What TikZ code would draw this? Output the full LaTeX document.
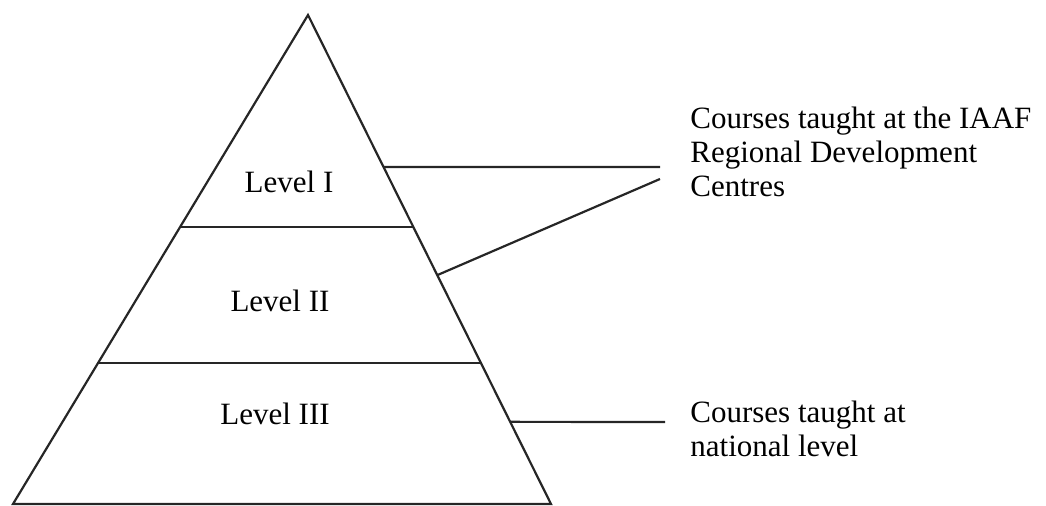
\documentclass[tikz,border=0pt]{standalone}
\usepackage{fontspec}
\setmainfont{Liberation Serif}
\usetikzlibrary{calc}

\tikzset{
  levellabel/.style={font=\fontsize{15.5}{17}\selectfont, inner sep=0pt},
  notetext/.style={font=\fontsize{15.5}{17}\selectfont, inner sep=0pt, align=left, anchor=base west},
  pyrline/.style={line width=1.1pt, draw=black!85},
}

\begin{document}
\begin{tikzpicture}[x=0.5pt,y=-0.5pt]
  \useasboundingbox (0,0) rectangle (1046,506);

  % pyramid outline
  \coordinate (apex) at (308,15);
  \coordinate (baseL) at (13,504);
  \coordinate (baseR) at (551,504);
  \draw[pyrline] (baseL) -- (apex) -- (baseR) -- cycle;

  % level dividers
  \draw[pyrline] ($(apex)!0.4335!(baseL)$) -- ($(apex)!0.4335!(baseR)$);
  \draw[pyrline] ($(apex)!0.7117!(baseL)$) -- ($(apex)!0.7117!(baseR)$);

  \node[levellabel] (lvlone)   at (289,182) {Level I};
  \node[levellabel] (lvltwo)   at (280,301) {Level II};
  \node[levellabel] (lvlthree) at (275,414) {Level III};

  % notes on the right (base = last line)
  \node[notetext] (regional) at (690,197) {Courses taught at the IAAF\\Regional Development\\Centres};
  \node[notetext] (national) at (690,457) {Courses taught at\\national level};

  \coordinate (oneside)   at ($(apex)!0.311!(baseR)$);
  \coordinate (twoside)   at ($(apex)!0.532!(baseR)$);
  \coordinate (threeside) at ($(apex)!0.832!(baseR)$);
  \coordinate (oneend)   at (660,167);
  \coordinate (twoend)   at (660,179);
  \coordinate (threeend) at (665,422);

  \draw[pyrline] (oneside) -- (oneend);
  \draw[pyrline] (twoside) -- (twoend);
  \draw[pyrline] (threeside) -- (threeend);
\end{tikzpicture}
\end{document}
